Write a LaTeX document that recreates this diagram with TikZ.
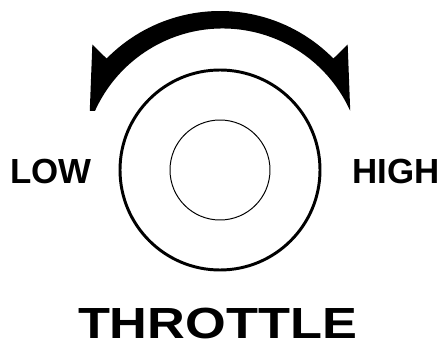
\documentclass[tikz,border=0pt]{standalone}
\usepackage{fontspec}
\setmainfont{Liberation Sans}
\usetikzlibrary{positioning, calc}

\begin{document}
\begin{tikzpicture}[
  x=0.025cm, y=0.025cm,
  every node/.style={inner sep=0pt, font=\bfseries},
  side/.style  = {anchor=base, font=\fontsize{24.8}{28}\selectfont\bfseries},
  title/.style = {anchor=base, xscale=1.2, font=\fontsize{31}{36}\selectfont\bfseries},
  rim/.style   = {line width=2.1pt},
  hub/.style   = {line width=0.7pt},
  turn/.style  = {fill=black, draw=none},
]
  \useasboundingbox (0,0) rectangle (440,349);
  \coordinate (c) at (220,179);
  % knob
  \draw[rim] (c) circle[radius=100];
  \draw[hub] (c) circle[radius=50];
  % turning arrow
  \fill[turn] ($(c)+(155.6:143)$) -- ($(c)+(135.5:179)$) -- ($(c)+(135.5:159)$)
    arc[start angle=135.5, end angle=44.5, radius=159]
    -- ($(c)+(44.5:179)$) -- ($(c)+(24.4:143)$)
    arc[start angle=24.4, end angle=30, radius=143]
    arc[start angle=30, end angle=150, radius=140]
    arc[start angle=150, end angle=155.6, radius=143] -- cycle;
  % labels
  \node[side] (low)  at (51,165)  {LOW};
  \node[side] (high) at (396,165) {HIGH};
  \node[title] (name) at (217.5,11) {THROTTLE};
\end{tikzpicture}
\end{document}
